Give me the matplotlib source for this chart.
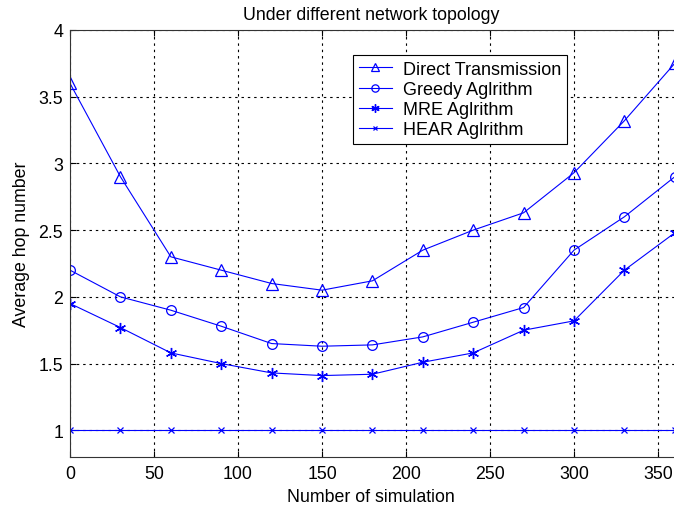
import matplotlib.pyplot as plt

plt.rcParams['font.family'] = ['Liberation Sans', 'DejaVu Sans']

# simulation index and average hop number for each scheme
runs = [0, 30, 60, 90, 120, 150, 180, 210, 240, 270, 300, 330, 360]
direct = [3.6, 2.9, 2.3, 2.2, 2.1, 2.05, 2.12, 2.35, 2.5, 2.63, 2.93, 3.32, 3.75]
greedy = [2.2, 2.0, 1.9, 1.78, 1.65, 1.63, 1.64, 1.70, 1.81, 1.92, 2.35, 2.6, 2.9]
mre = [1.95, 1.77, 1.58, 1.5, 1.43, 1.41, 1.42, 1.51, 1.58, 1.75, 1.82, 2.2, 2.48]
hear = [1.0] * 13

xticks = [0, 50, 100, 150, 200, 250, 300, 350]
yticks = [1, 1.5, 2, 2.5, 3, 3.5, 4]
ytick_labels = ['1', '1.5', '2', '2.5', '3', '3.5', '4']

fig = plt.figure(figsize=(6.74, 5.06), dpi=100)
ax = fig.add_axes([0.1039, 0.0949, 0.997, 0.8439])

blue = (0, 0, 1)
asterisk = (6, 2, 0)
ax.plot(runs, direct, color=blue, lw=0.8, marker='^', ms=8, mfc='none', mew=0.9, label='Direct Transmission')
ax.plot(runs, greedy, color=blue, lw=0.8, marker='o', ms=7, mfc='none', mew=0.9, label='Greedy Aglrithm')
ax.plot(runs, mre, color=blue, lw=0.8, marker=asterisk, ms=8, mew=1.0, label='MRE Aglrithm')
ax.plot(runs, hear, color=blue, lw=0.8, marker='x', ms=4, mew=0.9, label='HEAR Aglrithm')

ax.set_xlim(0, 400)
ax.set_ylim(0.8, 4)
ax.set_xticks(xticks)
ax.set_yticks(yticks)
ax.set_yticklabels(ytick_labels)
ax.tick_params(direction='in', length=4.5, labelsize=12.8, colors='black',
               top=True, right=True)
ax.tick_params(axis='x', pad=6)
ax.tick_params(axis='y', pad=5)
ax.grid(True, color='black', linestyle=(0, (2.2, 3.5)), lw=0.8)
for s in ax.spines.values():
    s.set_linewidth(0.8)
    s.set_color('#333333')

ax.set_title('Under different network topology', fontsize=12.8, x=0.448, pad=8)
ax.set_xlabel('Number of simulation', fontsize=12.8, x=0.448, labelpad=4)
ax.set_ylabel('Average hop number', fontsize=12.8, labelpad=6)

leg = ax.legend(loc='upper left', bbox_to_anchor=(0.421, 0.9415), fontsize=13,
                frameon=True, fancybox=False, framealpha=1, edgecolor='black',
                handlelength=1.83, handletextpad=0.61, borderpad=0.32,
                labelspacing=0.18, borderaxespad=0, markerscale=0.75)
leg.get_frame().set_linewidth(0.8)

fig.savefig('out.png', dpi=100)
